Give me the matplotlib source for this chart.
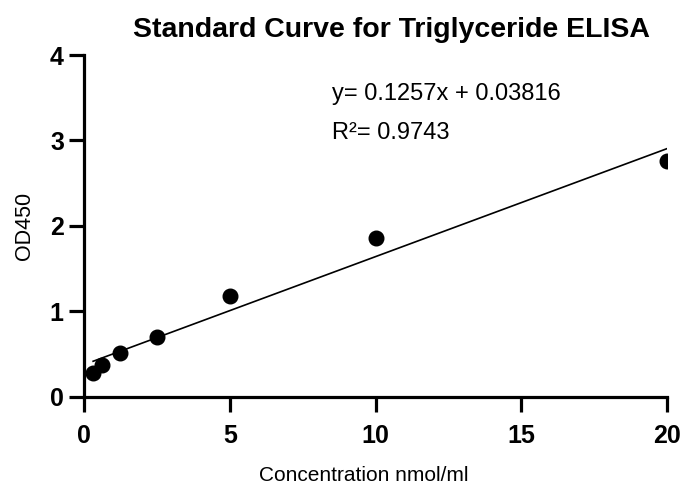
import numpy as np
import matplotlib.pyplot as plt

plt.rcParams['font.family'] = ['Liberation Sans', 'DejaVu Sans']

# standards (nmol/ml) and measured OD450
conc = [0.3125, 0.625, 1.25, 2.5, 5, 10, 20]
od450 = [0.28, 0.37, 0.51, 0.70, 1.18, 1.86, 2.76]
x_ticks = [0, 5, 10, 15, 20]
y_ticks = [0, 1, 2, 3, 4]

slope, intercept = np.polyfit(conc, od450, 1)
x_fit = np.array([conc[0], conc[-1]])
y_fit = slope * x_fit + intercept

fig = plt.figure(figsize=(6.83, 4.87), dpi=100)
ax = fig.add_axes([0.123, 0.185, 0.854, 0.702])

ax.plot(x_fit, y_fit, '-', color='black', lw=1.2)
ax.plot(conc, od450, 'o', color='black', ms=10.5)

ax.set_xlim(0, 20)
ax.set_ylim(0, 4)
ax.set_xticks(x_ticks)
ax.set_yticks(y_ticks)
ax.spines['top'].set_visible(False)
ax.spines['right'].set_visible(False)
for s in ['left', 'bottom']:
    ax.spines[s].set_linewidth(2.3)
ax.tick_params(width=2.3, length=10.5, labelsize=18)
ax.tick_params(axis='x', pad=9)
ax.tick_params(axis='y', pad=4)
for lab in ax.get_xticklabels() + ax.get_yticklabels():
    lab.set_fontweight('bold')

ax.set_xlabel("Concentration nmol/ml", fontsize=15, labelpad=13, x=0.48)
ax.set_ylabel("OD450", fontsize=15.5, labelpad=11)
ax.set_title("Standard Curve for Triglyceride ELISA", fontsize=20.5,
             fontweight='bold', x=0.528, pad=13)

ax.text(8.5, 3.47, "y= 0.1257x + 0.03816", fontsize=17)
ax.text(8.5, 3.02, "R²= 0.9743", fontsize=17)

fig.savefig("out.png")
